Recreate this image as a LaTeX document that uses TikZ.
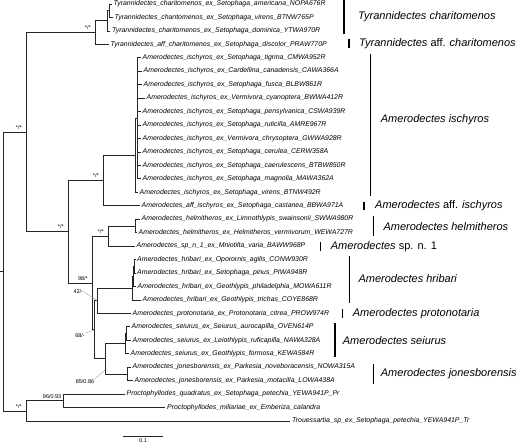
\documentclass[tikz,border=0pt]{standalone}
\usepackage{fontspec}
\setmainfont{Liberation Sans}

\begin{document}
\begin{tikzpicture}[
    x=1pt, y=-1pt,
    branch/.style={draw=black!85, line width=0.75pt},
    taxon/.style={
        anchor=west, inner xsep=2pt, inner ysep=0pt,
        text height=5pt, text depth=1.5pt,
        font=\fontsize{6.9}{8}\selectfont\itshape
    },
    support/.style={anchor=south east, inner sep=0.5pt, font=\fontsize{5.5}{6}\selectfont},
    leader/.style={draw=black!45, line width=0.3pt},
    cladebar/.style={draw=black, line width=1.4pt},
    cladename/.style={anchor=west, inner sep=0pt, font=\fontsize{11}{13}\selectfont\itshape}
]
\useasboundingbox (0,0) rectangle (520,444);

% -------------------------
% Internal nodes
% -------------------------
\coordinate (base) at (0, 271.5);
\coordinate (root) at (3, 271.5);
\coordinate (A) at (26, 132.2);
\coordinate (B) at (26, 410.9);
\coordinate (Tyr) at (95, 32.6);
\coordinate (C3) at (107, 20.8);
\coordinate (C12) at (109, 10.7);
\coordinate (M) at (68, 231.7);
\coordinate (IA) at (103, 180.5);
\coordinate (I) at (135, 155.3);
\coordinate (S) at (137, 118.3);
\coordinate (N98) at (92, 282.9);
\coordinate (H) at (108, 236);
\coordinate (HH) at (135, 225.9);
\coordinate (N68) at (94.5, 329.7);
\coordinate (N42) at (97, 300.7);
\coordinate (HR) at (132, 288.1);
\coordinate (HRa) at (133, 276.4);
\coordinate (HR2) at (134.5, 266.3);
\coordinate (N85) at (105, 358.7);
\coordinate (N85hit) at (105, 370);
\coordinate (SE) at (125, 343.6);
\coordinate (SE2) at (126, 333.5);
\coordinate (JO) at (127, 373.9);
\coordinate (Proc) at (63, 400.8);

% -------------------------
% Taxa
% -------------------------
\node[taxon] (t1) at (111.5, 4) {Tyrannidectes\_charitomenos\_ex\_Setophaga\_americana\_NOPA676R};
\node[taxon] (t2) at (112.5, 17.45) {Tyrannidectes\_charitomenos\_ex\_Setophaga\_virens\_BTNW765P};
\node[taxon] (t3) at (110, 30.9) {Tyrannidectes\_charitomenos\_ex\_Setophaga\_dominica\_YTWA970R};
\node[taxon] (t4) at (108.5, 44.35) {Tyrannidectes\_aff\_charitomenos\_ex\_Setophaga\_discolor\_PRAW770P};
\node[taxon] (t5) at (140.5, 57.8) {Amerodectes\_ischyros\_ex\_Setophaga\_tigrina\_CMWA952R};
\node[taxon] (t6) at (141.5, 71.25) {Amerodectes\_ischyros\_ex\_Cardellina\_canadensis\_CAWA366A};
\node[taxon] (t7) at (141.5, 84.7) {Amerodectes\_ischyros\_ex\_Setophaga\_fusca\_BLBW861R};
\node[taxon] (t8) at (144.5, 98.15) {Amerodectes\_ischyros\_ex\_Vermivora\_cyanoptera\_BWWA412R};
\node[taxon] (t9) at (140.5, 111.6) {Amerodectes\_ischyros\_ex\_Setophaga\_pensylvanica\_CSWA939R};
\node[taxon] (t10) at (140.5, 125.05) {Amerodectes\_ischyros\_ex\_Setophaga\_ruticilla\_AMRE967R};
\node[taxon] (t11) at (140.5, 138.5) {Amerodectes\_ischyros\_ex\_Vermivora\_chrysoptera\_GWWA928R};
\node[taxon] (t12) at (140.5, 151.95) {Amerodectes\_ischyros\_ex\_Setophaga\_cerulea\_CERW358A};
\node[taxon] (t13) at (140.5, 165.4) {Amerodectes\_ischyros\_ex\_Setophaga\_caerulescens\_BTBW850R};
\node[taxon] (t14) at (140.5, 178.85) {Amerodectes\_ischyros\_ex\_Setophaga\_magnolia\_MAWA362A};
\node[taxon] (t15) at (137.5, 192.3) {Amerodectes\_ischyros\_ex\_Setophaga\_virens\_BTNW492R};
\node[taxon] (t16) at (139.5, 205.75) {Amerodectes\_aff\_ischyros\_ex\_Setophaga\_castanea\_BBWA971A};
\node[taxon] (t17) at (139.5, 219.2) {Amerodectes\_helmitheros\_ex\_Limnothlypis\_swainsonii\_SWWA980R};
\node[taxon] (t18) at (136.5, 232.65) {Amerodectes\_helmitheros\_ex\_Helmitheros\_vermivorum\_WEWA727R};
\node[taxon] (t19) at (134.5, 246.1) {Amerodectes\_sp\_n\_1\_ex\_Mniotilta\_varia\_BAWW968P};
\node[taxon] (t20) at (135, 259.55) {Amerodectes\_hribari\_ex\_Oporornis\_agilis\_CONW930R};
\node[taxon] (t21) at (135, 273) {Amerodectes\_hribari\_ex\_Setophaga\_pinus\_PIWA948R};
\node[taxon] (t22) at (135.5, 286.45) {Amerodectes\_hribari\_ex\_Geothlypis\_philadelphia\_MOWA611R};
\node[taxon] (t23) at (140.5, 299.9) {Amerodectes\_hribari\_ex\_Geothlypis\_trichas\_COYE868R};
\node[taxon] (t24) at (130.5, 313.35) {Amerodectes\_protonotaria\_ex\_Protonotaria\_citrea\_PROW974R};
\node[taxon] (t25) at (129.5, 326.8) {Amerodectes\_seiurus\_ex\_Seiurus\_aurocapilla\_OVEN614P};
\node[taxon] (t26) at (130.5, 340.25) {Amerodectes\_seiurus\_ex\_Leiothlypis\_ruficapilla\_NAWA328A};
\node[taxon] (t27) at (128.5, 353.7) {Amerodectes\_seiurus\_ex\_Geothlypis\_formosa\_KEWA584R};
\node[taxon] (t28) at (130.5, 367.15) {Amerodectes\_jonesborensis\_ex\_Parkesia\_noveboracensis\_NOWA315A};
\node[taxon] (t29) at (132.5, 380.6) {Amerodectes\_jonesborensis\_ex\_Parkesia\_motacilla\_LOWA438A};
\node[taxon] (t30) at (124.5, 394.05) {Proctophyllodes\_quadratus\_ex\_Setophaga\_petechia\_YEWA941P\_Pr};
\node[taxon] (t31) at (165, 407.5) {Proctophyllodes\_miliariae\_ex\_Emberiza\_calandra};
\node[taxon] (t32) at (290, 420.95) {Trouessartia\_sp\_ex\_Setophaga\_petechia\_YEWA941P\_Tr};

% -------------------------
% Branches
% -------------------------
\draw[branch] (base) -- (root);
\draw[branch] (root) |- (A);
\draw[branch] (root) |- (B);
\draw[branch] (A) |- (Tyr);
\draw[branch] (A) |- (M);

% Tyrannidectes
\draw[branch] (Tyr) |- (C3);
\draw[branch] (Tyr) |- (t4.west);
\draw[branch] (C3) |- (C12);
\draw[branch] (C3) |- (t3.west);
\draw[branch] (C12) |- (t1.west);
\draw[branch] (C12) |- (t2.west);

% Amerodectes ischyros
\draw[branch] (M) |- (IA);
\draw[branch] (M) |- (N98);
\draw[branch] (IA) |- (I);
\draw[branch] (IA) |- (t16.west);
\draw[branch] (I) |- (S);
\draw[branch] (I) |- (t15.west);
\draw[branch] (S) |- (t5.west);
\draw[branch] (S) |- (t6.west);
\draw[branch] (S) |- (t7.west);
\draw[branch] (S) |- (t8.west);
\draw[branch] (S) |- (t9.west);
\draw[branch] (S) |- (t10.west);
\draw[branch] (S) |- (t11.west);
\draw[branch] (S) |- (t12.west);
\draw[branch] (S) |- (t13.west);
\draw[branch] (S) |- (t14.west);

% helmitheros and sp. n. 1
\draw[branch] (N98) |- (H);
\draw[branch] (N98) |- (N68);
\draw[branch] (H) |- (HH);
\draw[branch] (H) |- (t19.west);
\draw[branch] (HH) |- (t17.west);
\draw[branch] (HH) |- (t18.west);

% hribari, protonotaria
\draw[branch] (N68) |- (N42);
\draw[branch] (N68) |- (N85);
\draw[branch] (N42) |- (HR);
\draw[branch] (N42) |- (t24.west);
\draw[branch] (HR) |- (HRa);
\draw[branch] (HR) |- (t23.west);
\draw[branch] (HRa) |- (HR2);
\draw[branch] (HRa) |- (t22.west);
\draw[branch] (HR2) |- (t20.west);
\draw[branch] (HR2) |- (t21.west);

% seiurus, jonesborensis
\draw[branch] (N85) |- (SE);
\draw[branch] (N85) |- (JO);
\draw[branch] (SE) |- (SE2);
\draw[branch] (SE) |- (t27.west);
\draw[branch] (SE2) |- (t25.west);
\draw[branch] (SE2) |- (t26.west);
\draw[branch] (JO) |- (t28.west);
\draw[branch] (JO) |- (t29.west);

% outgroups
\draw[branch] (B) |- (Proc);
\draw[branch] (B) |- (t32.west);
\draw[branch] (Proc) |- (t30.west);
\draw[branch] (Proc) |- (t31.west);

% -------------------------
% Support values
% -------------------------
\node[support] (sA) at ([xshift=-3.5pt,yshift=2pt]A) {*/*};
\node[support] (sTyr) at ([xshift=-3.5pt,yshift=2pt]Tyr) {*/*};
\node[support] (sM) at ([xshift=-3.5pt,yshift=2pt]M) {*/*};
\node[support] (sIA) at ([xshift=-3.5pt,yshift=2pt]IA) {*/*};
\node[support] (sH) at ([xshift=-3.5pt,yshift=2pt]H) {*/*};
\node[support] (sN98) at ([xshift=-3.5pt,yshift=2pt]N98) {98/*};
\node[support] (sB) at ([xshift=-3.5pt,yshift=2pt]B) {*/*};
\node[support] (sProc) at ([xshift=-1pt,yshift=2pt]Proc) {96/0.93};

\node[support, anchor=center] (s42) at (78.3, 291.7) {42/-};
\node[support, anchor=center] (s68) at (80, 336) {68/-};
\node[support, anchor=center] (s85) at (85, 381.7) {85/0.86};
\draw[leader] (s42.east) -- (N42);
\draw[leader] (s68.north east) -- (N68);
\draw[leader] (s85.north east) -- (N85hit);

% -------------------------
% Clade bars and names
% -------------------------
\draw[cladebar] (344, 0.5) -- (344, 34);
\node[cladename] (cTyr) at (358, 16.5) {Tyrannidectes charitomenos};
\draw[cladebar] (349, 39) -- (349, 48.5);
\node[cladename] (cTyrAff) at (359, 44) {Tyrannidectes {\upshape aff.} charitomenos};
\draw[cladebar] (370.7, 54) -- (370.7, 196);
\node[cladename] (cIsc) at (380.7, 120) {Amerodectes ischyros};
\draw[cladebar] (364, 201.5) -- (364, 210);
\node[cladename] (cIscAff) at (375, 205.7) {Amerodectes {\upshape aff.} ischyros};
\draw[cladebar] (373.3, 215.5) -- (373.3, 236);
\node[cladename] (cHel) at (383.3, 227) {Amerodectes helmitheros};
\draw[cladebar] (320.7, 242) -- (320.7, 250.5);
\node[cladename] (cSpn) at (330.7, 246.5) {Amerodectes {\upshape sp. n. 1}};
\draw[cladebar] (349.3, 256) -- (349.3, 303);
\node[cladename] (cHri) at (358.3, 278.5) {Amerodectes hribari};
\draw[cladebar] (342.7, 309) -- (342.7, 317.5);
\node[cladename] (cPro) at (352.7, 313.3) {Amerodectes protonotaria};
\draw[cladebar] (335, 323) -- (335, 357);
\node[cladename] (cSei) at (342.7, 340.5) {Amerodectes seiurus};
\draw[cladebar] (373.3, 363.5) -- (373.3, 384);
\node[cladename] (cJon) at (380.7, 373.5) {Amerodectes jonesborensis};

% -------------------------
% Scale bar
% -------------------------
\coordinate (sbL) at (123, 436);
\coordinate (sbR) at (163, 436);
\draw[branch] (sbL) -- (sbR) node[midway, below=1.5pt, inner sep=0.5pt, font=\fontsize{5.5}{6}\selectfont] (sbText) {0.1};

\end{tikzpicture}
\end{document}
